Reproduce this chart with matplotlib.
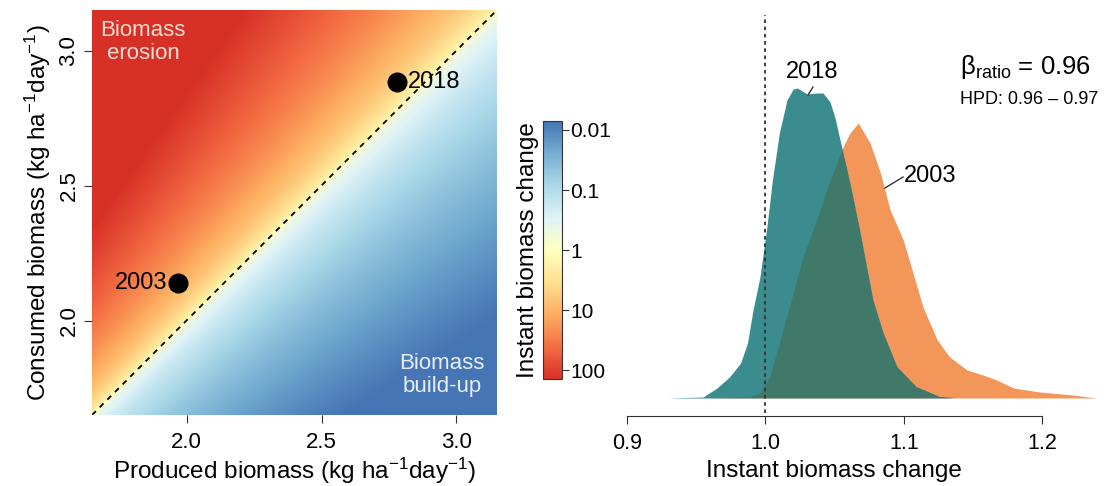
import numpy as np
import matplotlib
matplotlib.use("Agg")
import matplotlib.pyplot as plt
from matplotlib.colors import LinearSegmentedColormap

plt.rcParams['font.family'] = ['Liberation Sans', 'DejaVu Sans']
plt.rcParams['mathtext.fontset'] = 'custom'
plt.rcParams['mathtext.rm'] = 'Liberation Sans'
plt.rcParams['mathtext.it'] = 'Liberation Sans:italic'

# left panel: produced vs consumed biomass
prod_lim = [1.65, 3.15]
cons_lim = [1.65, 3.15]
years = ['2003', '2018']
produced = [1.97, 2.78]
consumed = [2.14, 2.885]
axis_ticks = [2.0, 2.5, 3.0]
cbar_ticks = [-2, -1, 0, 1, 2]
cbar_labels = ['0.01', '0.1', '1', '10', '100']
palette = ['#4575b4', '#74add1', '#abd9e9', '#e0f3f8', '#ffffbf',
           '#fee090', '#fdae61', '#f46d43', '#d73027']

# right panel: posterior densities of instant biomass change
x_2018 = [0.929, 0.955, 0.965, 0.974, 0.982, 0.987, 0.991, 0.996, 1.001, 1.005,
          1.010, 1.0155, 1.020, 1.023, 1.030, 1.037, 1.0415, 1.0466, 1.050, 1.055,
          1.061, 1.068, 1.0776, 1.085, 1.095, 1.109, 1.126, 1.137]
h_2018 = [0, 1, 10, 21, 35, 55, 88, 121, 171, 218,
          265, 298, 309, 310, 304, 305, 305, 296, 281, 251,
          215, 168, 98, 65, 31, 11, 1, 0]
x_2003 = [0.960, 0.989, 0.996, 1.003, 1.010, 1.018, 1.027, 1.037, 1.0466, 1.056,
          1.061, 1.067, 1.0755, 1.083, 1.090, 1.0995, 1.1065, 1.1137, 1.124, 1.133,
          1.1455, 1.157, 1.167, 1.179, 1.198, 1.222, 1.239]
h_2003 = [0, 1, 5, 21, 55, 95, 141, 178, 218, 251,
          265, 275, 255, 225, 188, 158, 125, 91, 58, 41,
          28, 23, 18, 10, 6, 3, 0]
dens_ticks = [0.9, 1.0, 1.1, 1.2]

fig = plt.figure(figsize=(11.07, 4.86), dpi=100)

# ---- heatmap
ax1 = fig.add_axes([92/1107, 71/486, 405/1107, 405/486])
cmap = LinearSegmentedColormap.from_list('rdylbu', palette)
P, C = np.meshgrid(np.linspace(*prod_lim, 400), np.linspace(*cons_lim, 400))
r = np.log(C / P)
gain = np.where(r > 0, 3.6, 3.2)
z = gain * np.sign(r) * np.sqrt(np.abs(r))
im = ax1.imshow(z, extent=prod_lim + cons_lim, origin='lower', cmap=cmap,
                vmin=-2.15, vmax=2.15, aspect='auto', interpolation='bilinear')
ax1.plot(prod_lim, cons_lim, ls=(0, (3, 3)), color='k', lw=1.3)
ax1.scatter(produced, consumed, s=180, c='k', zorder=3)
ax1.annotate(years[0], (produced[0], consumed[0]), xytext=(-8, 0), textcoords='offset points',
             ha='right', va='center', fontsize=17)
ax1.annotate(years[1], (produced[1], consumed[1]), xytext=(8, 0), textcoords='offset points',
             ha='left', va='center', fontsize=17)
ax1.text(0.126, 0.975, 'Biomass\nerosion', transform=ax1.transAxes, ha='center', va='top',
         fontsize=16, color='#f9dcd2', linespacing=1.1)
ax1.text(0.864, 0.045, 'Biomass\nbuild-up', transform=ax1.transAxes, ha='center', va='bottom',
         fontsize=16, color='#e6eff8', linespacing=1.1)
ax1.set_xlim(prod_lim)
ax1.set_ylim(cons_lim)
for s in ax1.spines.values():
    s.set_visible(False)
ax1.set_xticks(axis_ticks)
ax1.set_yticks(axis_ticks)
ax1.set_xticklabels(['%.1f' % t for t in axis_ticks])
ax1.set_yticklabels(['%.1f' % t for t in axis_ticks], rotation=90, va='center')
ax1.tick_params(axis='both', length=6, color='#333333', labelsize=16)
ax1.tick_params(axis='x', pad=6)
ax1.tick_params(axis='y', pad=3)
ax1.set_xlabel('Produced biomass (kg ha$^{-1}$day$^{-1}$)', fontsize=17.5, labelpad=2)
ax1.set_ylabel('Consumed biomass (kg ha$^{-1}$day$^{-1}$)', fontsize=17.5, labelpad=4)

# ---- colorbar
cax = fig.add_axes([543/1107, 107/486, 19/1107, 258/486])
cb = fig.colorbar(im, cax=cax, ticks=cbar_ticks)
cb.set_ticklabels(cbar_labels)
cax.invert_yaxis()
cb.outline.set_linewidth(0.8)
cb.outline.set_edgecolor('#333333')
cax.tick_params(length=5, labelsize=15, color='#333333', pad=1)
cax.set_ylabel('Instant biomass change', fontsize=17.5, labelpad=3)
cax.yaxis.set_label_position('left')

# ---- densities
ax2 = fig.add_axes([610/1107, 70/486, 495/1107, 406/486])
ax2.fill_between(x_2003, h_2003, color='#f2965a', lw=0)
teal = ax2.fill_between(x_2018, h_2018, color='#3a8c8e', lw=0)
both = ax2.fill_between(x_2003, h_2003, color='#40786a', lw=0)
both.set_clip_path(teal.get_paths()[0], ax2.transData)
ax2.plot([1.0, 1.0], [-15, 383], ls=(0, (2, 2)), color='#333333', lw=1.3)

ax2.text(1.0336, 326, '2018', ha='center', va='center', fontsize=17)
ax2.plot([1.0343, 1.0307], [311, 303], color='#333333', lw=1)
ax2.text(1.1000, 222, '2003', ha='left', va='center', fontsize=17)
ax2.plot([1.0863, 1.0993], [210, 221], color='#333333', lw=1)
ax2.text(1.1404, 331, 'β$_{\\mathrm{ratio}}$ = 0.96', ha='left', va='center', fontsize=18.5)
ax2.text(1.1404, 298, 'HPD: 0.96 – 0.97', ha='left', va='center', fontsize=13)

ax2.set_xlim(0.9 - 17/1385, 0.9 + 478/1385)
ax2.set_ylim(-18, 388)
for k in ['top', 'right', 'left']:
    ax2.spines[k].set_visible(False)
ax2.spines['bottom'].set_bounds(0.9, 1.2)
ax2.spines['bottom'].set_color('#333333')
ax2.set_yticks([])
ax2.set_xticks(dens_ticks)
ax2.set_xticklabels(['%.1f' % t for t in dens_ticks])
ax2.tick_params(axis='x', length=6, color='#333333', labelsize=15.5, pad=6)
fig.text(834/1107, 1 - 471/486, 'Instant biomass change', ha='center', va='center', fontsize=17.5)

fig.savefig('out.png', dpi=100)
